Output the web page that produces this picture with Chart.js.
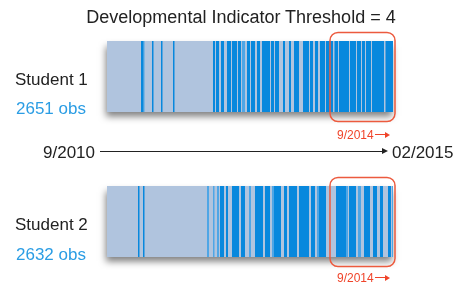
<!DOCTYPE html>
<html>
<head>
<meta charset="utf-8">
<script src="https://cdn.jsdelivr.net/npm/chart.js@4.4.1/dist/chart.umd.min.js"></script>
<style>
    body { margin: 0; background: #fff; font-family: "Liberation Sans", Arial, sans-serif; }
    #wrap { position: relative; width: 459px; height: 289px; overflow: hidden; }
    canvas { position: absolute; left: 0; top: 0; }
    .t { position: absolute; white-space: nowrap; line-height: 1; transform: translateY(-50%); color: #222; }
    .obs { color: #2b9de4; }
    .red { color: #f0442a; font-size: 12px; }
    .line { position: absolute; height: 1px; background: #222; }
    .head { position: absolute; width: 0; height: 0; border-top: 3px solid transparent; border-bottom: 3px solid transparent; }
</style>
</head>
<body>
<div id="wrap">
    <canvas id="strip" width="459" height="289"></canvas>

    <div class="t" style="left:241px;top:17px;font-size:18px;transform:translate(-50%,-50%)">Developmental Indicator Threshold = 4</div>

    <div class="t" style="left:15px;top:79px;font-size:17px">Student 1</div>
    <div class="t obs" style="left:16px;top:108px;font-size:17px">2651 obs</div>
    <div class="t" style="left:15px;top:224px;font-size:17px">Student 2</div>
    <div class="t obs" style="left:16px;top:254px;font-size:17px">2632 obs</div>

    <div class="t" style="left:43px;top:152px;font-size:17px">9/2010</div>
    <div class="line" style="left:100px;top:151px;width:283px"></div>
    <div class="head" style="left:382px;top:148px;border-left:6px solid #222"></div>
    <div class="t" style="left:392px;top:152px;font-size:17px">02/2015</div>

    <div class="t red" style="left:337px;top:135px">9/2014</div>
    <div class="line" style="left:375px;top:134px;width:11px;background:#f0442a"></div>
    <div class="head" style="left:385px;top:131.5px;border-left:5px solid #f0442a"></div>
    <div class="t red" style="left:337px;top:278px">9/2014</div>
    <div class="line" style="left:375px;top:277px;width:11px;background:#f0442a"></div>
    <div class="head" style="left:385px;top:274.5px;border-left:5px solid #f0442a"></div>
</div>
<script>
// rangées (la ligne vide sert d'espace pour la flèche du temps)
const rows = ["Student 1", "", "Student 2"];
const span = [0, 286];          // début 9/2010 -> fin 02/2015
const highlightFrom = 223;      // ~9/2014

// segments au-dessus du seuil (positions sur l'axe du temps)
const darkS1 = [
    [34, 36.5], [45, 46.5], [54, 55.5], [66, 67.5],
    [106, 108], [109, 112], [114, 117], [120, 124], [125, 130], [131, 134],
    [140, 143], [144, 148], [150, 153], [155, 163], [164, 167], [168, 172],
    [176, 178], [182, 184], [187, 192], [196, 202], [203, 206], [208, 211],
    [213, 218], [219, 226], [227.5, 231], [232, 242], [243, 249], [250, 254],
    [255, 258], [259, 264], [265, 277], [278.5, 286]
];
const midS1 = [[135, 138], [36.5, 37.5]];
const darkS2 = [
    [31, 32.5], [36, 37.5],
    [113, 117], [119, 121], [125, 132], [134, 138], [148, 156], [158, 163],
    [167, 174], [177, 180], [182, 190], [192, 202], [204, 208], [212, 219],
    [229, 239], [242, 249], [257, 263], [266, 270], [273, 276], [281, 284]
];
const midS2 = [
    [100, 102], [106, 107.5], [110, 112], [142, 144], [165, 167], [210, 212],
    [239, 241], [251, 254], [285, 286]
];

const toData = (segs, row) => segs.map(s => ({ y: row, x: s }));

const barOpts = {
    grouped: false,
    barPercentage: 0.98,
    categoryPercentage: 1,
    borderWidth: 0,
    borderSkipped: false,
    clip: false
};

// ombre portée sous les bandes de fond
const shadowPlugin = {
    id: "shadow",
    beforeDatasetDraw(chart, args) {
        if (args.index !== 2) return;
        const ctx = chart.ctx;
        ctx.save();
        ctx.shadowColor = "rgba(0,0,0,0.5)";
        ctx.shadowBlur = 7;
        ctx.shadowOffsetX = -1;
        ctx.shadowOffsetY = 5;
    },
    afterDatasetDraw(chart, args) {
        if (args.index === 2) chart.ctx.restore();
    }
};

// cadres rouges autour de la période récente
const boxPlugin = {
    id: "boxes",
    afterDraw(chart) {
        const ctx = chart.ctx;
        const xs = chart.scales.x, ys = chart.scales.y;
        const band = (ys.getPixelForValue(1) - ys.getPixelForValue(0)) * barOpts.barPercentage;
        [0, 2].forEach(i => {
            const cy = ys.getPixelForValue(i);
            const x0 = xs.getPixelForValue(highlightFrom);
            const x1 = xs.getPixelForValue(span[1]) + 2;
            ctx.save();
            ctx.strokeStyle = "#ec5a3e";
            ctx.lineWidth = 1.5;
            ctx.beginPath();
            ctx.roundRect(x0, cy - band / 2 - 8.5, x1 - x0, band + 18, 8);
            ctx.stroke();
            ctx.restore();
        });
    }
};

new Chart(document.getElementById("strip"), {
    type: "bar",
    data: {
        labels: rows,
        datasets: [
            { ...barOpts, data: [...toData(darkS1, "Student 1"), ...toData(darkS2, "Student 2")], backgroundColor: "#0888dd", order: 1 },
            { ...barOpts, data: [...toData(midS1, "Student 1"), ...toData(midS2, "Student 2")], backgroundColor: "#4ea6e6", order: 2 },
            { ...barOpts, data: [{ y: "Student 1", x: span }, { y: "Student 2", x: span }], backgroundColor: "#b0c4de", order: 3 }
        ]
    },
    options: {
        indexAxis: "y",
        responsive: false,
        animation: false,
        layout: { padding: { left: 107, right: 66, top: 40.25, bottom: 31.25 } },
        plugins: { legend: { display: false }, tooltip: { enabled: false } },
        scales: {
            x: { type: "linear", min: span[0], max: span[1], display: false },
            y: { type: "category", offset: true, display: false }
        }
    },
    plugins: [shadowPlugin, boxPlugin]
});
</script>
</body>
</html>
